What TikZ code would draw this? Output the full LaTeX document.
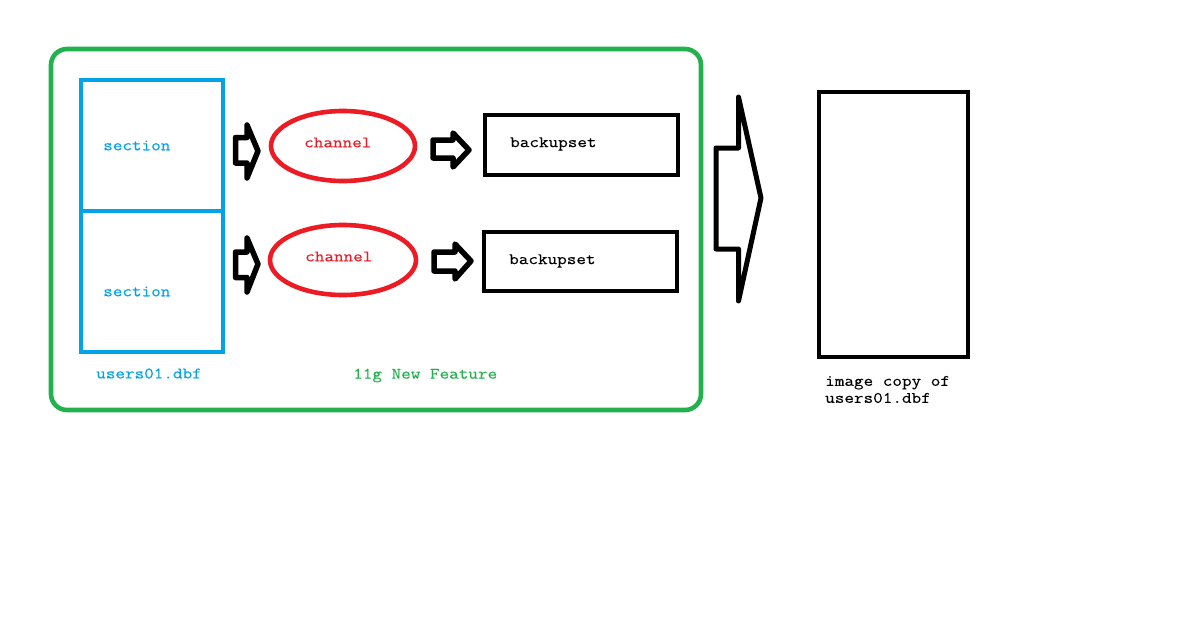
\documentclass[tikz,border=0pt]{standalone}
\usepackage{fontspec}
\setmainfont{Latin Modern Mono}[FakeStretch=1.165,FakeBold=0.2]
\definecolor{cgreen}{HTML}{22B14C}
\definecolor{cblue}{HTML}{00A2E8}
\definecolor{cred}{HTML}{ED1C24}
\tikzset{
  lbl/.style={inner sep=0pt,anchor=west,font=\fontsize{16}{17}\selectfont},
  arrowshape/.style={draw=black,line width=5.5pt,line join=round,fill=white},
  bigarrow/.style={draw=black,line width=5pt,line join=round,fill=white},
  boxblack/.style={draw=black,line width=4.6pt,rectangle,inner sep=0pt},
  boxblue/.style={draw=cblue,line width=4.8pt,rectangle,inner sep=0pt},
  ell/.style={draw=cred,line width=4.6pt,ellipse,inner sep=0pt},
}
\usetikzlibrary{shapes.geometric}
\begin{document}
\begin{tikzpicture}[x=1pt,y=-1pt]
\useasboundingbox (0,0) rectangle (1200,637);
\fill[white] (0,0) rectangle (1200,637);
\draw[cgreen,line width=4.6pt,rounded corners=16pt] (51,49) rectangle (701,410);
\node[boxblue,minimum width=142pt,minimum height=131pt] (s1) at (152,145.5) {};
\node[boxblue,minimum width=142pt,minimum height=141pt] (s2) at (152,281.5) {};
\node[ell,minimum width=144pt,minimum height=70pt] (c1) at (343,146) {};
\node[ell,minimum width=146pt,minimum height=70pt] (c2) at (343,260) {};
\node[boxblack,minimum width=193pt,minimum height=60pt] (b1) at (581.5,145) {};
\node[boxblack,minimum width=193pt,minimum height=59pt] (b2) at (580.5,261.5) {};
\node[boxblack,minimum width=149pt,minimum height=265pt] (img) at (893.5,224.5) {};
\draw[arrowshape] (235.5,137.5)--(247,137.5)--(247,125)--(258,151)--(247,178)--(247,163)--(235.5,163)--cycle;
\draw[arrowshape] (235.5,252)--(247,252)--(247,238)--(258,264)--(247,292)--(247,277.5)--(235.5,277.5)--cycle;
\draw[arrowshape] (433,140)--(453,140)--(453,133)--(469,150)--(453,167)--(453,158)--(433,158)--cycle;
\draw[arrowshape] (434,252)--(455,252)--(455,244)--(471,261)--(455,279)--(455,271)--(434,271)--cycle;
\draw[bigarrow] (716,148)--(738.5,148)--(738.5,97)--(761,198)--(738.5,301)--(738.5,249)--(716,249)--cycle;
\node[lbl,text=cblue] (t1) at (103,145.5) {section};
\node[lbl,text=cblue] (t2) at (103,291.5) {section};
\node[lbl,text=cblue] (t3) at (96,373.5) {users01.dbf};
\node[lbl,text=cred] (t4) at (304,142.5) {channel};
\node[lbl,text=cred] (t5) at (305,256.5) {channel};
\node[lbl] (t6) at (510,144) {backupset};
\node[lbl] (t7) at (509,261) {backupset};
\node[lbl,text=cgreen] (t8) at (353,375.5) {11g New Feature};
\node[lbl,align=left] (t9) at (825,389.5) {image copy of\\users01.dbf};
\end{tikzpicture}
\end{document}
